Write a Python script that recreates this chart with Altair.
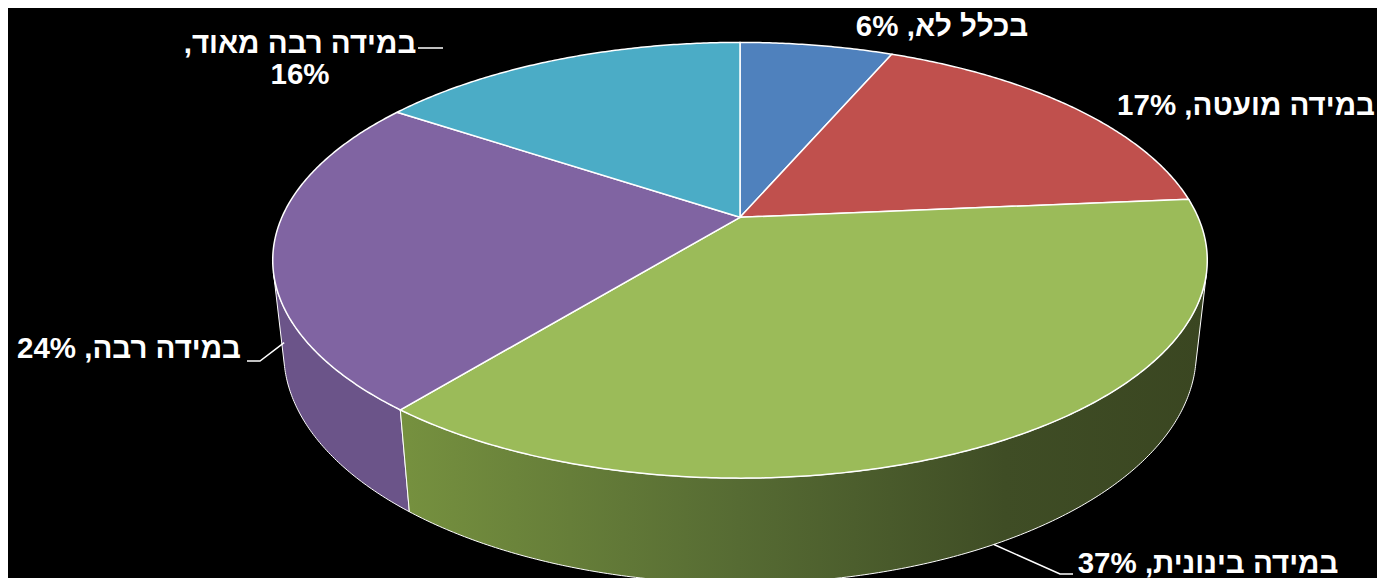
import math
import altair as alt

# ---------------- data ----------------
categories = ["בכלל לא", "במידה מועטה", "במידה בינונית", "במידה רבה", "במידה רבה מאוד"]
shares = [6.4, 17.2, 37.2, 23.6, 15.6]          # slice sizes (%)
top_colors = ["#4f81bd", "#c0504d", "#9bbb59", "#8064a2", "#4bacc6"]
side_colors = ["#3f6797", "#9a403e", "#566b33", "#6b5489", "#3c8a9e"]

# ---------------- layout ----------------
W, H = 1369, 570
CX, CY = 740.0, 217.3        # pie apex on the page
FOCAL = 2066.0
DIST = 4.51
TILT = math.radians(27.2)
DEPTH = 0.2284
label_pos = {                 # label anchors on the page
    0: (942, 27),
    1: (1246, 106),
    2: (1208, 564),
    3: (129, 349),
    4: (300, 44),
}
label_lines = {               # label-side ends of leader lines
    2: [(1073, 574), (1060, 574)],
    3: [(247, 361), (260, 361)],
    4: [(418, 48), (443, 48)],
}
leader_to_pie = {2: True, 3: True, 4: False}


def project(theta_deg, level):
    t = math.radians(theta_deg)
    X, Z = math.sin(t), math.cos(t)
    Y = -DEPTH if level == "bottom" else 0.0
    depth = DIST - Y * math.sin(TILT) + Z * math.cos(TILT)
    yc = Y * math.cos(TILT) + Z * math.sin(TILT)
    return [CX + FOCAL * X / depth, CY - FOCAL * yc / depth]


def arc(a, b, level):
    n = max(2, int(math.ceil((b - a) / 0.5)) + 1)
    return [project(a + (b - a) * k / (n - 1), level) for k in range(n)]


total = sum(shares)
bounds = []
acc = 0.0
for s in shares:
    a = acc / total * 360.0
    acc += s
    bounds.append((a, acc / total * 360.0))

vis = math.degrees(math.acos(-1.0 / (DIST * math.cos(TILT))))
vis_lo, vis_hi = vis, 360.0 - vis

top_features, side_features, green_side = [], [], []
apex = [CX, CY]
for i, (a, b) in enumerate(bounds):
    ring = [apex] + arc(a, b, "top") + [apex]
    top_features.append({"type": "Feature", "properties": {"cat": categories[i]},
                         "geometry": {"type": "Polygon", "coordinates": [ring]}})
    a2, b2 = max(a, vis_lo), min(b, vis_hi)
    if b2 > a2:
        up = arc(a2, b2, "top")
        ring = up + arc(a2, b2, "bottom")[::-1] + [up[0]]
        f = {"type": "Feature", "properties": {"cat": categories[i]},
             "geometry": {"type": "Polygon", "coordinates": [ring]}}
        if i == 2:
            green_side.append(f)
        else:
            side_features.append(f)

leader_features = []
for i, pts in label_lines.items():
    a, b = bounds[i]
    mid = (a + b) / 2
    coords = [list(p) for p in pts]
    if leader_to_pie[i]:
        coords.append(project(mid, "bottom"))
    leader_features.append({"type": "Feature", "properties": {"cat": categories[i]},
                            "geometry": {"type": "LineString", "coordinates": coords}})

labels = []
for i, c in enumerate(categories):
    pct = round(shares[i] / total * 100)
    text = f"{c}, {pct}%" if i != 4 else f"{c},\u200f\n{pct}%"
    labels.append({"label": text, "lx": label_pos[i][0], "ly": label_pos[i][1]})

proj = dict(type="identity", scale=1, translate=[-8, -8])

sides = alt.Chart(alt.Data(values=side_features)).mark_geoshape(
    stroke="white", strokeWidth=1
).encode(
    fill=alt.Fill("properties.cat:N", scale=alt.Scale(domain=categories, range=side_colors), legend=None)
).project(**proj)

green = alt.Chart(alt.Data(values=green_side)).mark_geoshape(
    stroke="white", strokeWidth=1,
    fill=alt.Gradient(
        gradient="linear", x1=0, x2=1, y1=0, y2=0,
        stops=[alt.GradientStop(color="#76913f", offset=0),
               alt.GradientStop(color="#566b33", offset=0.42),
               alt.GradientStop(color="#3f4d25", offset=0.75),
               alt.GradientStop(color="#3a4621", offset=1)],
    ),
).project(**proj)

tops = alt.Chart(alt.Data(values=top_features)).mark_geoshape(
    stroke="white", strokeWidth=1.5
).encode(
    fill=alt.Fill("properties.cat:N", scale=alt.Scale(domain=categories, range=top_colors), legend=None)
).project(**proj)

leaders = alt.Chart(alt.Data(values=leader_features)).mark_geoshape(
    filled=False, stroke="white", strokeWidth=1.5
).project(**proj)

text = alt.Chart(alt.Data(values=labels)).mark_text(
    font="Arial, Liberation Sans, sans-serif", fontSize=29.5, fontWeight="bold",
    color="white", align="center", baseline="middle",
    lineBreak="\n", lineHeight=31,
).encode(
    longitude="lx:Q", latitude="ly:Q", text="label:N"
).project(**proj)

chart = alt.layer(sides, green, tops, leaders, text).resolve_scale(fill="independent").properties(
    width=W, height=H, padding=0, background="black",
    autosize=alt.AutoSizeParams(type="none"),
).configure_view(strokeWidth=0)

chart.save("out.html", embed_options={"renderer": "svg", "actions": False})
